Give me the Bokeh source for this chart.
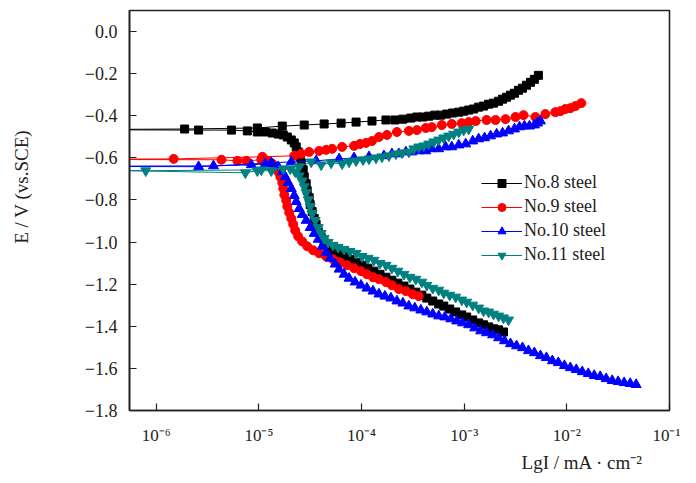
from bokeh.plotting import figure
from bokeh.models import (Range1d, FixedTicker, CustomJSTickFormatter, Title,
                          Legend, LegendItem)
from bokeh.embed import file_html
from bokeh.resources import INLINE

# ---------------- data (lgI in log10 mA/cm2, E in V vs SCE) ----------------
no8_cath_lgi = [-2.617, -2.665, -2.714, -2.762, -2.811, -2.859, -2.917, -2.976, -3.024, -3.083,
                -3.141, -3.199, -3.248, -3.306, -3.364, -3.413, -3.471, -3.529, -3.587, -3.646,
                -3.704, -3.762, -3.820, -3.879, -3.937, -3.995, -4.053, -4.112, -4.170, -4.228,
                -4.277, -4.325, -4.364, -4.393, -4.422, -4.442, -4.461, -4.481, -4.500, -4.510,
                -4.529, -4.539, -4.558, -4.568, -4.587, -4.597, -4.617, -4.636, -4.655, -4.684,
                -4.723, -4.762, -4.811, -4.869, -4.937, -5.015, -5.112, -5.267, -5.587]
no8_cath_e = [-1.427, -1.417, -1.412, -1.403, -1.393, -1.384, -1.370, -1.356, -1.346, -1.332,
              -1.318, -1.304, -1.294, -1.280, -1.266, -1.252, -1.238, -1.223, -1.209, -1.195,
              -1.181, -1.167, -1.153, -1.138, -1.124, -1.110, -1.096, -1.082, -1.068, -1.053,
              -1.039, -1.020, -1.001, -0.978, -0.950, -0.916, -0.888, -0.855, -0.822, -0.789,
              -0.756, -0.723, -0.690, -0.657, -0.624, -0.595, -0.572, -0.548, -0.529, -0.515,
              -0.501, -0.491, -0.487, -0.482, -0.477, -0.477, -0.472, -0.468, -0.468]
no8_anod_lgi = [-7.0,
                -5.723, -5.015, -4.772, -4.558, -4.364, -4.199, -4.053, -3.898, -3.762, -3.675,
                -3.597, -3.519, -3.461, -3.403, -3.345, -3.286, -3.228, -3.170, -3.112, -3.053,
                -3.005, -2.956, -2.908, -2.859, -2.811, -2.762, -2.714, -2.665, -2.626, -2.587,
                -2.549, -2.510, -2.471, -2.432, -2.393, -2.354, -2.316, -2.277]
no8_anod_e = [-0.466,
              -0.463, -0.458, -0.449, -0.444, -0.439, -0.435, -0.430, -0.425, -0.420, -0.420,
              -0.416, -0.411, -0.406, -0.406, -0.402, -0.397, -0.397, -0.392, -0.387, -0.383,
              -0.378, -0.373, -0.368, -0.359, -0.354, -0.345, -0.340, -0.331, -0.321, -0.312,
              -0.302, -0.293, -0.279, -0.269, -0.255, -0.241, -0.227, -0.208]

no9_cath_lgi = [-3.442, -3.500, -3.568, -3.636, -3.704, -3.762, -3.830, -3.888, -3.947, -4.005,
                -4.073, -4.141, -4.209, -4.277, -4.345, -4.413, -4.471, -4.529, -4.578, -4.617,
                -4.646, -4.665, -4.684, -4.704, -4.723, -4.733, -4.752, -4.762, -4.772, -4.791,
                -4.811, -4.830, -4.869, -4.917, -4.976, -5.121, -5.209, -5.364]
no9_cath_e = [-1.257, -1.248, -1.233, -1.223, -1.205, -1.190, -1.176, -1.167, -1.153, -1.138,
              -1.124, -1.110, -1.096, -1.082, -1.068, -1.053, -1.039, -1.020, -0.997, -0.973,
              -0.945, -0.916, -0.888, -0.860, -0.831, -0.803, -0.775, -0.746, -0.718, -0.690,
              -0.666, -0.647, -0.628, -0.614, -0.609, -0.614, -0.614, -0.609]
no9_anod_lgi = [-7.0,
                -5.830, -4.966, -4.655, -4.587, -4.510, -4.413, -4.345, -4.286, -4.189, -4.073,
                -4.015, -3.956, -3.898, -3.830, -3.752, -3.655, -3.539, -3.461, -3.374, -3.316,
                -3.218, -3.121, -3.024, -2.956, -2.888, -2.782, -2.694, -2.597, -2.500, -2.422,
                -2.306, -2.209, -2.112, -2.063, -2.015, -1.966, -1.917, -1.859]
no9_anod_e = [-0.607,
              -0.605, -0.595, -0.590, -0.581, -0.572, -0.567, -0.562, -0.557, -0.548, -0.543,
              -0.534, -0.529, -0.520, -0.501, -0.491, -0.477, -0.472, -0.468, -0.458, -0.454,
              -0.444, -0.439, -0.435, -0.430, -0.425, -0.420, -0.420, -0.416, -0.406, -0.397,
              -0.406, -0.392, -0.383, -0.378, -0.368, -0.364, -0.354, -0.340]

no10_cath_lgi = [-1.325, -1.383, -1.442, -1.500, -1.558, -1.617, -1.675, -1.733, -1.791, -1.850,
                 -1.908, -1.966, -2.024, -2.083, -2.141, -2.199, -2.257, -2.316, -2.374, -2.432,
                 -2.490, -2.549, -2.607, -2.665, -2.723, -2.782, -2.840, -2.898, -2.956, -3.015,
                 -3.073, -3.131, -3.189, -3.248, -3.306, -3.364, -3.422, -3.481, -3.539, -3.597,
                 -3.655, -3.714, -3.772, -3.830, -3.888, -3.947, -4.005, -4.063, -4.121, -4.170,
                 -4.218, -4.257, -4.306, -4.345, -4.383, -4.422, -4.461, -4.500, -4.539, -4.578,
                 -4.607, -4.636, -4.655, -4.684, -4.714, -4.743, -4.772, -4.811, -4.869, -4.937,
                 -5.073, -5.442]
no10_cath_e = [-1.677, -1.672, -1.668, -1.663, -1.658, -1.649, -1.639, -1.634, -1.625, -1.616,
               -1.606, -1.597, -1.587, -1.573, -1.564, -1.549, -1.540, -1.526, -1.516, -1.502,
               -1.493, -1.483, -1.469, -1.455, -1.441, -1.431, -1.422, -1.408, -1.393, -1.384,
               -1.375, -1.365, -1.356, -1.351, -1.342, -1.332, -1.323, -1.313, -1.304, -1.290,
               -1.280, -1.266, -1.257, -1.247, -1.233, -1.219, -1.205, -1.190, -1.172, -1.153,
               -1.129, -1.105, -1.077, -1.049, -1.020, -0.987, -0.959, -0.931, -0.897, -0.869,
               -0.841, -0.808, -0.779, -0.746, -0.718, -0.690, -0.666, -0.642, -0.628, -0.628,
               -0.633, -0.638]
no10_anod_lgi = [-7.0,
                 -5.587, -4.879, -4.684, -4.442, -4.218, -4.073, -3.927, -3.782, -3.704, -3.636,
                 -3.568, -3.510, -3.442, -3.374, -3.316, -3.248, -3.180, -3.121, -3.053, -2.985,
                 -2.917, -2.859, -2.801, -2.743, -2.684, -2.626, -2.568, -2.510, -2.461, -2.413,
                 -2.364, -2.316, -2.286, -2.257]
no10_anod_e = [-0.640,
               -0.642, -0.624, -0.619, -0.614, -0.605, -0.600, -0.595, -0.590, -0.581, -0.581,
               -0.572, -0.572, -0.567, -0.567, -0.557, -0.557, -0.548, -0.548, -0.539, -0.534,
               -0.520, -0.510, -0.505, -0.496, -0.487, -0.482, -0.472, -0.463, -0.453, -0.449,
               -0.449, -0.444, -0.435, -0.425]

no11_cath_lgi = [-2.568, -2.617, -2.665, -2.714, -2.762, -2.811, -2.859, -2.917, -2.976, -3.024,
                 -3.083, -3.141, -3.199, -3.248, -3.306, -3.364, -3.413, -3.471, -3.529, -3.587,
                 -3.646, -3.704, -3.762, -3.820, -3.879, -3.937, -3.995, -4.053, -4.112, -4.170,
                 -4.228, -4.277, -4.325, -4.364, -4.393, -4.422, -4.451, -4.481, -4.500, -4.519,
                 -4.539, -4.558, -4.578, -4.607, -4.646, -4.694, -4.762, -4.879, -5.015, -5.131]
no11_cath_e = [-1.370, -1.360, -1.351, -1.342, -1.332, -1.327, -1.313, -1.299, -1.285, -1.275,
               -1.261, -1.252, -1.242, -1.228, -1.219, -1.205, -1.190, -1.176, -1.167, -1.153,
               -1.138, -1.124, -1.110, -1.101, -1.086, -1.077, -1.068, -1.053, -1.044, -1.034,
               -1.025, -1.015, -1.001, -0.983, -0.959, -0.931, -0.897, -0.864, -0.831, -0.798,
               -0.765, -0.737, -0.709, -0.685, -0.666, -0.652, -0.652, -0.661, -0.661, -0.671]
no11_anod_lgi = [-7.0,
                 -6.102, -4.976, -4.607, -4.490, -4.393, -4.296, -4.189, -4.121, -4.053, -3.985,
                 -3.927, -3.859, -3.801, -3.733, -3.665, -3.607, -3.539, -3.490, -3.442, -3.393,
                 -3.345, -3.296, -3.248, -3.199, -3.150, -3.102, -3.053, -3.005, -2.956]
no11_anod_e = [-0.655,
               -0.661, -0.657, -0.642, -0.619, -0.633, -0.624, -0.628, -0.619, -0.614, -0.609,
               -0.605, -0.600, -0.595, -0.590, -0.581, -0.576, -0.572, -0.557, -0.548, -0.543,
               -0.534, -0.524, -0.515, -0.505, -0.496, -0.487, -0.477, -0.468, -0.463]

series_names = ["No.8 steel", "No.9 steel", "No.10 steel", "No.11 steel"]
x_ticks = [1e-6, 1e-5, 1e-4, 1e-3, 1e-2, 1e-1]
y_ticks = [0.0, -0.2, -0.4, -0.6, -0.8, -1.0, -1.2, -1.4, -1.6, -1.8]

# ---------------- figure ----------------
SERIF = "Liberation Serif"
INK = "#222222"
p = figure(width=680, height=478, x_axis_type="log",
           x_range=Range1d(10 ** -6.26, 1e-1), y_range=Range1d(-1.8, 0.1),
           output_backend="svg", toolbar_location=None,
           min_border_left=129, min_border_right=11, min_border_top=10, min_border_bottom=66)
p.background_fill_color = "white"
p.border_fill_color = "white"
p.xgrid.visible = False
p.ygrid.visible = False
p.outline_line_color = INK
p.outline_line_width = 1.6
p.outline_line_alpha = 1.0

for ax in (p.xaxis[0], p.yaxis[0]):
    ax.axis_line_color = INK
    ax.axis_line_width = 1.6
    ax.major_tick_in = 7
    ax.major_tick_out = 0
    ax.minor_tick_in = 0
    ax.minor_tick_out = 0
    ax.major_tick_line_color = INK
    ax.major_tick_line_width = 1.2
    ax.major_label_text_font = SERIF
    ax.major_label_text_color = INK

p.xaxis.major_label_text_font_size = "17px"
p.yaxis.major_label_text_font_size = "18px"
p.xaxis.ticker = FixedTicker(ticks=x_ticks, minor_ticks=[])
p.yaxis.ticker = FixedTicker(ticks=y_ticks, minor_ticks=[])
p.xaxis.major_label_standoff = 15
p.yaxis.major_label_standoff = 12
p.xaxis.formatter = CustomJSTickFormatter(code=r"""
const e = Math.round(Math.log10(tick));
const sup = {'-':'\u207b','0':'\u2070','1':'\u00b9','2':'\u00b2','3':'\u00b3','4':'\u2074',
             '5':'\u2075','6':'\u2076','7':'\u2077','8':'\u2078','9':'\u2079'};
return '10' + String(e).split('').map(c => sup[c]).join('');
""")
p.yaxis.formatter = CustomJSTickFormatter(code=r"""
const s = (Math.abs(tick) < 1e-9 ? 0 : tick).toFixed(1);
return s.replace('-', '\u2212');
""")

# y axis label (leading no-break spaces lift it a little above the axis centre,
# as in the original figure)
p.yaxis.axis_label = "\u00a0" * 11 + "E  / V (vs.SCE)"
p.yaxis.axis_label_standoff = 50
p.yaxis.axis_label_text_font = SERIF
p.yaxis.axis_label_text_font_size = "19px"
p.yaxis.axis_label_text_font_style = "normal"
p.yaxis.axis_label_text_color = INK

# x axis label (right aligned under the axis)
xtitle = Title(text="LgI  / mA \u00b7  cm\u207b\u00b2", align="right", offset=17,
               vertical_align="top", standoff=8,
               text_font=SERIF, text_font_size="19px", text_font_style="normal",
               text_color=INK)
p.add_layout(xtitle, "below")

series = [
    (no8_cath_lgi + no8_anod_lgi, no8_cath_e + no8_anod_e, "black", "square", 8),
    (no9_cath_lgi + no9_anod_lgi, no9_cath_e + no9_anod_e, "#ff0000", "circle", 9),
    (no10_cath_lgi + no10_anod_lgi, no10_cath_e + no10_anod_e, "#0000ff", "triangle", 10),
    (no11_cath_lgi + no11_anod_lgi, no11_cath_e + no11_anod_e, "#008080", "inverted_triangle", 10),
]

items = []
for name, (lgi, e, color, marker, size) in zip(series_names, series):
    cur = [10 ** v for v in lgi]
    ln = p.line(cur, e, line_color=color, line_width=1.0)
    sc = p.scatter(cur, e, marker=marker, size=size, fill_color=color, line_color=color)
    items.append(LegendItem(label=name, renderers=[ln, sc]))

legend = Legend(items=items, location=(352, 145), orientation="vertical",
                border_line_color=None, background_fill_alpha=0.0,
                padding=0, margin=0, spacing=3, glyph_width=41, glyph_height=20,
                label_height=20, label_standoff=2,
                label_text_font=SERIF, label_text_font_size="18px",
                label_text_color=INK)
p.add_layout(legend)

open("out.html", "w").write(file_html(p, INLINE))
